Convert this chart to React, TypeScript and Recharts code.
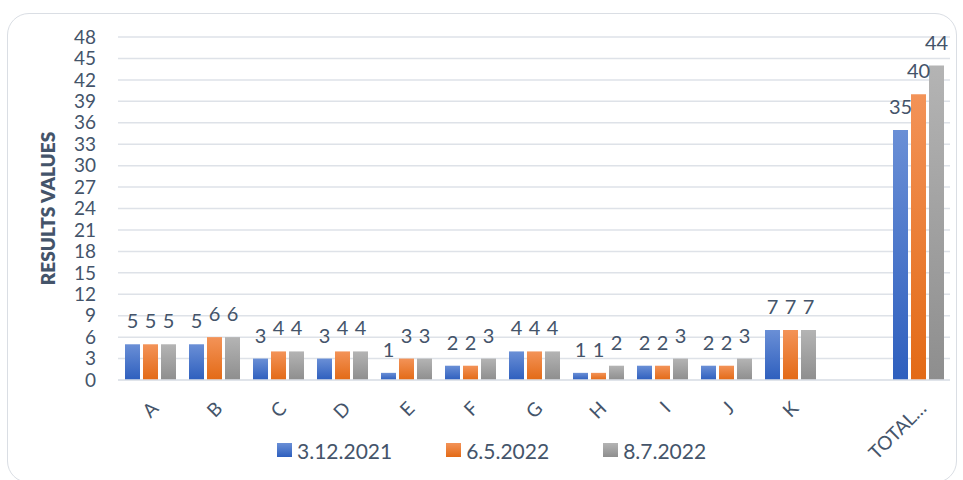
import React from 'react';
import { BarChart, Bar, XAxis, YAxis, CartesianGrid, Legend, LabelList } from 'recharts';

const categories = ['A', 'B', 'C', 'D', 'E', 'F', 'G', 'H', 'I', 'J', 'K', '', 'TOTAL…'];
const dec2021 = [5, 5, 3, 3, 1, 2, 4, 1, 2, 2, 7, null, 35];
const may2022 = [5, 6, 4, 4, 3, 2, 4, 1, 2, 2, 7, null, 40];
const jul2022 = [5, 6, 4, 4, 3, 3, 4, 2, 3, 3, 7, null, 44];
const yTicks = [0, 3, 6, 9, 12, 15, 18, 21, 24, 27, 30, 33, 36, 39, 42, 45, 48];

const seriesInfo = [
  { key: 'd1', name: '3.12.2021', top: '#6a8fd6', bottom: '#2e5fbe' },
  { key: 'd2', name: '6.5.2022', top: '#f39358', bottom: '#e36a16' },
  { key: 'd3', name: '8.7.2022', top: '#b4b4b4', bottom: '#8e8e8e' },
];

const data = categories.map((name, i) => ({
  name,
  d1: dec2021[i],
  d2: may2022[i],
  d3: jul2022[i],
}));

const FONT = 'Lato, "Open Sans", sans-serif';
const TEXT = '#44546A';

const XTick = ({ x, y, payload }: any) => (
  <g transform={`translate(${x + 5},${y + 17})`}>
    <text
      transform="rotate(-45)"
      textAnchor="end"
      dy="0.35em"
      fill={TEXT}
      fontSize={19}
      fontFamily={FONT}
    >
      {payload.value}
    </text>
  </g>
);

const LegendContent = () => (
  <div style={{ display: 'flex', alignItems: 'center', paddingLeft: 277, height: 32, fontFamily: FONT }}>
    {seriesInfo.map((s) => (
      <div key={s.key} style={{ display: 'flex', alignItems: 'center', marginRight: 54 }}>
        <span
          style={{
            width: 15,
            height: 14,
            background: `linear-gradient(${s.top}, ${s.bottom})`,
            marginRight: 5,
            display: 'inline-block',
          }}
        />
        <span style={{ fontSize: 21, color: TEXT }}>{s.name}</span>
      </div>
    ))}
  </div>
);

export default function App() {
  return (
    <div style={{ position: 'absolute', left: 0, top: 0, width: 963, height: 480, background: '#fff' }}>
      <div
        style={{
          position: 'absolute',
          left: 7,
          top: 13,
          width: 950,
          height: 470,
          border: '1.5px solid #dadee4',
          borderRadius: 22,
          boxSizing: 'border-box',
        }}
      />
      <BarChart
        width={963}
        height={480}
        data={data}
        margin={{ top: 37, right: 13, left: 30, bottom: 14 }}
        barSize={15}
        barGap={3}
        style={{ position: 'absolute', left: 0, top: 0 }}
      >
        <defs>
          {seriesInfo.map((s) => (
            <linearGradient key={s.key} id={`grad-${s.key}`} x1="0" y1="0" x2="0" y2="1">
              <stop offset="0%" stopColor={s.top} />
              <stop offset="100%" stopColor={s.bottom} />
            </linearGradient>
          ))}
        </defs>
        <CartesianGrid vertical={false} stroke="#dee2e8" strokeWidth={1.5} />
        <XAxis
          dataKey="name"
          interval={0}
          height={54}
          tickLine={false}
          axisLine={{ stroke: '#dee2e8', strokeWidth: 1.5 }}
          tick={<XTick />}
        />
        <YAxis
          width={88}
          domain={[0, 48]}
          ticks={yTicks}
          interval={0}
          axisLine={false}
          tickLine={false}
          tickSize={0}
          tickMargin={22}
          tick={{ fill: TEXT, fontSize: 19, fontFamily: FONT }}
          label={{
            value: 'RESULTS VALUES',
            angle: -90,
            position: 'insideLeft',
            offset: 18,
            textAnchor: 'middle',
            style: { fill: TEXT, fontSize: 19, fontWeight: 800, fontFamily: FONT, textAnchor: 'middle' },
          }}
        />
        <Legend verticalAlign="bottom" height={32} wrapperStyle={{ left: 0, width: 963 }} content={<LegendContent />} />
        {seriesInfo.map((s) => (
          <Bar key={s.key} dataKey={s.key} name={s.name} fill={`url(#grad-${s.key})`} isAnimationActive={false}>
            <LabelList
              dataKey={s.key}
              position="top"
              offset={16}
              fill={TEXT}
              fontSize={20}
              fontFamily={FONT}
            />
          </Bar>
        ))}
      </BarChart>
    </div>
  );
}
